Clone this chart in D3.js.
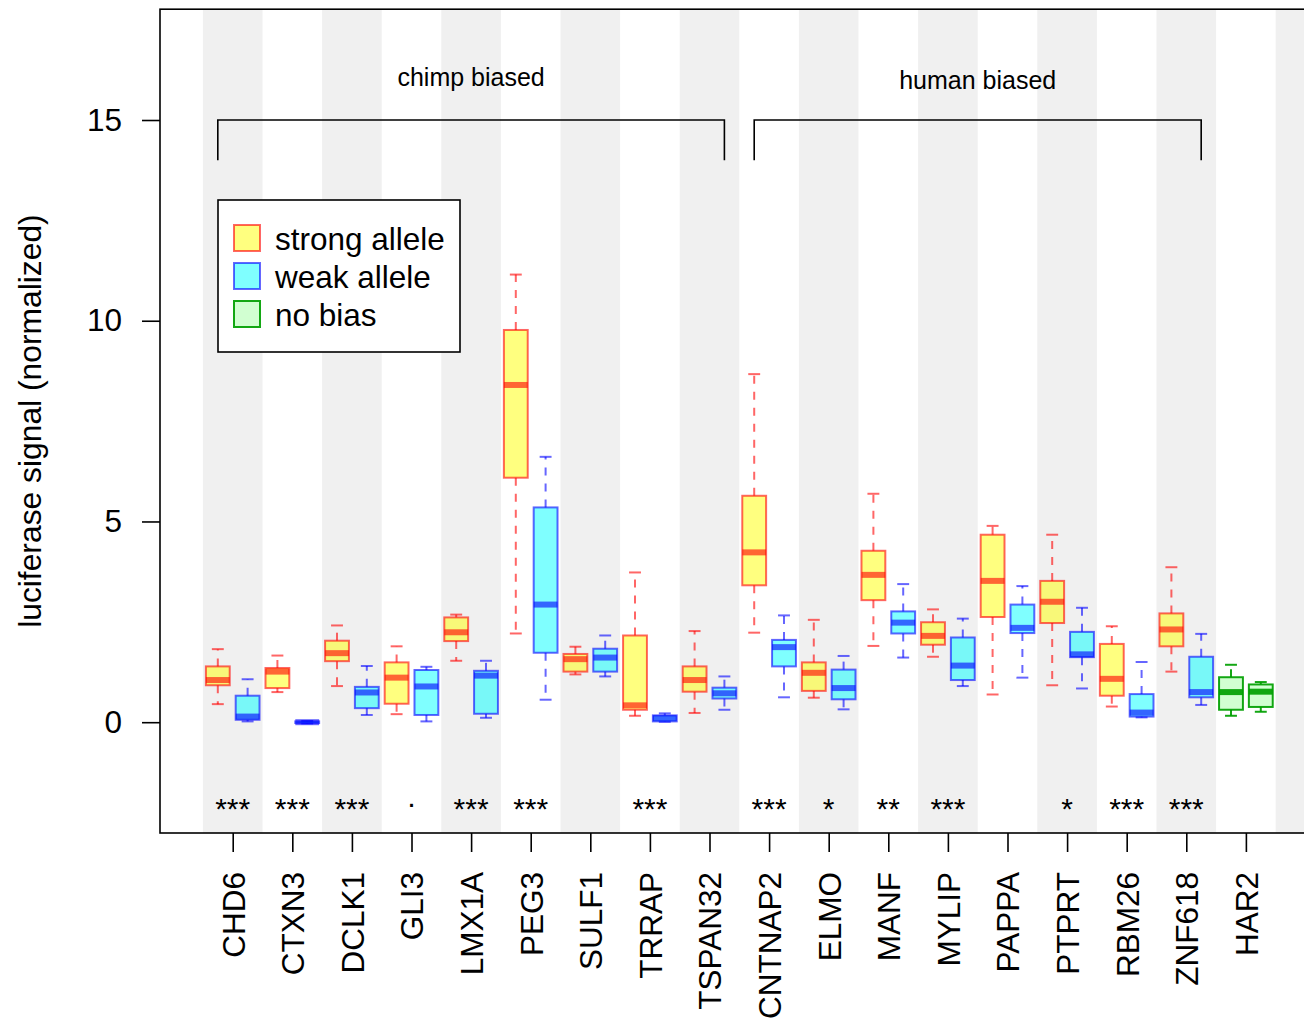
<!DOCTYPE html>
<html>
<head>
<meta charset="utf-8">
<script src="https://cdn.jsdelivr.net/npm/d3@7"></script>
<style>
  html, body { margin: 0; padding: 0; background: #fff; }
  svg { display: block; font-family: "Liberation Sans", Arial, Helvetica, sans-serif; }
</style>
</head>
<body>
<svg id="chart" width="1304" height="1018"></svg>
<script>
// Genes tested; each has a strong-allele and a weak-allele box (HAR2: two unbiased controls)
const genes = ["CHD6","CTXN3","DCLK1","GLI3","LMX1A","PEG3","SULF1","TRRAP","TSPAN32",
               "CNTNAP2","ELMO","MANF","MYLIP","PAPPA","PTPRT","RBM26","ZNF618","HAR2"];

// Five-number summaries [lower whisker, Q1, median, Q3, upper whisker]
const strongAllele = [
  [0.45, 0.92, 1.05, 1.39, 1.82],
  [0.75, 0.85, 1.26, 1.35, 1.66],
  [0.90, 1.52, 1.72, 2.03, 2.41],
  [0.20, 0.46, 1.11, 1.49, 1.89],
  [1.53, 2.02, 2.24, 2.61, 2.68],
  [2.21, 6.09, 8.40, 9.77, 11.15],
  [1.19, 1.26, 1.57, 1.70, 1.88],
  [0.16, 0.31, 0.42, 2.16, 3.73],
  [0.23, 0.76, 1.05, 1.39, 2.27],
  [2.23, 3.41, 4.23, 5.64, 8.67],
  [0.61, 0.78, 1.23, 1.49, 2.55],
  [1.90, 3.04, 3.67, 4.27, 5.69],
  [1.63, 1.93, 2.15, 2.49, 2.81],
  [0.69, 2.62, 3.52, 4.67, 4.89],
  [0.92, 2.47, 3.00, 3.52, 4.67],
  [0.39, 0.66, 1.08, 1.95, 2.39],
  [1.26, 1.89, 2.31, 2.71, 3.86],
  [0.16, 0.31, 0.75, 1.12, 1.43]
];
const weakAllele = [
  [0.02, 0.06, 0.14, 0.66, 1.07],
  [-0.03, -0.02, 0.00, 0.02, 0.03],
  [0.18, 0.35, 0.74, 0.88, 1.40],
  [0.02, 0.18, 0.89, 1.30, 1.38],
  [0.11, 0.21, 1.16, 1.28, 1.53],
  [0.56, 1.73, 2.93, 5.35, 6.61],
  [1.14, 1.26, 1.61, 1.83, 2.16],
  [0.01, 0.02, 0.10, 0.17, 0.22],
  [0.31, 0.59, 0.72, 0.86, 1.14],
  [0.62, 1.39, 1.87, 2.05, 2.66],
  [0.32, 0.57, 0.85, 1.31, 1.65],
  [1.61, 2.21, 2.48, 2.76, 3.44],
  [0.90, 1.05, 1.41, 2.11, 2.58],
  [1.11, 2.22, 2.35, 2.93, 3.39],
  [0.84, 1.62, 1.69, 2.25, 2.85],
  [0.12, 0.14, 0.24, 0.70, 1.50],
  [0.43, 0.62, 0.75, 1.63, 2.20],
  [0.26, 0.38, 0.76, 0.94, 1.00]
];

// Significance of strong vs weak allele difference
const significance = ["***","***","***","·","***","***","","***","",
                      "***","*","**","***","","*","***","***",""];

// Gene groups marked with brackets above the boxes
const groups = [
  { label: "chimp biased", first: 0, last: 8, textY: 15.85 },
  { label: "human biased", first: 9, last: 16, textY: 15.77 }
];

const yTicks = [0, 5, 10, 15];

const legendItems = [
  { label: "strong allele", kind: "strong" },
  { label: "weak allele", kind: "weak" },
  { label: "no bias", kind: "none" }
];

const palette = {
  strong: { fill: "rgba(255,255,0,0.5)", stroke: "rgba(255,0,0,0.6)" },
  weak:   { fill: "rgba(0,255,255,0.5)", stroke: "rgba(0,0,255,0.6)" },
  none:   { fill: "rgba(0,255,0,0.18)",  stroke: "rgba(0,160,0,0.92)" }
};

const fontSize = 31.5;

// ---- layout -------------------------------------------------------------
const svg = d3.select("#chart");
const nBoxes = genes.length * 2;
const xLo = 0.5 - 0.04 * nBoxes, xHi = nBoxes + 0.5 + 0.04 * nBoxes;
const x = d3.scaleLinear().domain([xLo, xHi]).range([160, 1318.6]);
const y = d3.scaleLinear().domain([-2.76, 17.76]).range([833, 9.2]);
const unit = x(1) - x(0);
const boxW = 0.8 * unit, capW = 0.4 * unit;

const plotTop = y(17.76), plotBot = y(-2.76), plotLeft = x(xLo), plotRight = x(xHi);
const pos = (i, k) => 2 * i + 1 + k;           // k = 0 strong, 1 weak
const center = i => 2 * i + 1.5;

// alternating background stripes, one per gene pair
const stripes = d3.range(0, genes.length + 2);
svg.append("g").selectAll("rect").data(stripes.filter(i => i % 2 === 0))
  .join("rect")
  .attr("x", i => x(2 * i + 0.5))
  .attr("width", i => x(2 * i + 2.5) - x(2 * i + 0.5))
  .attr("y", plotTop).attr("height", plotBot - plotTop)
  .attr("fill", "#f0f0f0");

// ---- boxes --------------------------------------------------------------
const boxes = [];
genes.forEach((g, i) => {
  const control = g === "HAR2";
  boxes.push({ p: pos(i, 0), s: strongAllele[i], kind: control ? "none" : "strong" });
  boxes.push({ p: pos(i, 1), s: weakAllele[i], kind: control ? "none" : "weak" });
});

const bg = svg.append("g").selectAll("g").data(boxes).join("g");
// whiskers (dashed, from hinge out to the extreme)
bg.append("line")
  .attr("x1", d => x(d.p)).attr("x2", d => x(d.p))
  .attr("y1", d => y(d.s[3])).attr("y2", d => y(d.s[4]))
  .attr("stroke", d => palette[d.kind].stroke).attr("stroke-width", 2)
  .attr("stroke-dasharray", "8,8");
bg.append("line")
  .attr("x1", d => x(d.p)).attr("x2", d => x(d.p))
  .attr("y1", d => y(d.s[1])).attr("y2", d => y(d.s[0]))
  .attr("stroke", d => palette[d.kind].stroke).attr("stroke-width", 2)
  .attr("stroke-dasharray", "8,8");
// staples
[0, 4].forEach(j => {
  bg.append("line")
    .attr("x1", d => x(d.p) - capW / 2).attr("x2", d => x(d.p) + capW / 2)
    .attr("y1", d => y(d.s[j])).attr("y2", d => y(d.s[j]))
    .attr("stroke", d => palette[d.kind].stroke).attr("stroke-width", 2);
});
// box body
bg.append("rect")
  .attr("x", d => x(d.p) - boxW / 2).attr("width", boxW)
  .attr("y", d => y(d.s[3])).attr("height", d => Math.max(0.5, y(d.s[1]) - y(d.s[3])))
  .attr("fill", d => palette[d.kind].fill)
  .attr("stroke", d => palette[d.kind].stroke).attr("stroke-width", 2);
// median
bg.append("line")
  .attr("x1", d => x(d.p) - boxW / 2).attr("x2", d => x(d.p) + boxW / 2)
  .attr("y1", d => y(d.s[2])).attr("y2", d => y(d.s[2]))
  .attr("stroke", d => palette[d.kind].stroke).attr("stroke-width", 6);

// ---- frame and axes -----------------------------------------------------
svg.append("rect")
  .attr("x", plotLeft).attr("y", plotTop)
  .attr("width", plotRight - plotLeft).attr("height", plotBot - plotTop)
  .attr("fill", "none").attr("stroke", "#000").attr("stroke-width", 1.6);

const yAxis = svg.append("g").attr("transform", `translate(${plotLeft},0)`)
  .call(d3.axisLeft(y).tickValues(yTicks).tickSize(18).tickPadding(20).tickFormat(d3.format("d")));
yAxis.select(".domain").remove();
yAxis.selectAll("line").attr("stroke-width", 1.6);
yAxis.selectAll("text").attr("font-size", fontSize).attr("fill", "#000")
  .attr("font-family", "'Liberation Sans', Arial, sans-serif");

const xAxis = svg.append("g").attr("transform", `translate(0,${plotBot})`)
  .call(d3.axisBottom(x).tickValues(genes.map((g, i) => center(i)))
    .tickSize(19).tickFormat((d, i) => genes[i]));
xAxis.select(".domain").remove();
xAxis.selectAll("line").attr("stroke-width", 1.6);
xAxis.selectAll("text")
  .attr("font-size", fontSize).attr("fill", "#000")
  .attr("font-family", "'Liberation Sans', Arial, sans-serif")
  .attr("text-anchor", "end")
  .attr("transform", "translate(0,39) rotate(-90)")
  .attr("x", 0).attr("y", 0).attr("dy", "0.36em");

// y-axis title
svg.append("text")
  .attr("transform", `translate(41,${(plotTop + plotBot) / 2}) rotate(-90)`)
  .attr("text-anchor", "middle")
  .attr("font-size", fontSize + 0.3)
  .text("luciferase signal (normalized)");

// significance marks
svg.append("g").selectAll("text").data(significance).join("text")
  .attr("x", (d, i) => x(center(i)))
  .attr("y", d => d === "·" ? 813 : 819)
  .attr("text-anchor", "middle")
  .attr("font-size", 30)
  .text(d => d);

// group brackets
const br = svg.append("g").selectAll("g").data(groups).join("g");
br.append("path")
  .attr("d", d => `M${x(pos(d.first, 0))},${y(14)}V${y(15)}H${x(pos(d.last, 1))}V${y(14)}`)
  .attr("fill", "none").attr("stroke", "#000").attr("stroke-width", 1.6);
br.append("text")
  .attr("x", d => (x(pos(d.first, 0)) + x(pos(d.last, 1))) / 2)
  .attr("y", d => y(d.textY))
  .attr("text-anchor", "middle")
  .attr("font-size", 25)
  .text(d => d.label);

// ---- legend -------------------------------------------------------------
const lg = svg.append("g").attr("transform", "translate(218,200)");
lg.append("rect").attr("width", 242).attr("height", 152)
  .attr("fill", "#fff").attr("stroke", "#000").attr("stroke-width", 1.6);
const li = lg.selectAll("g").data(legendItems).join("g")
  .attr("transform", (d, i) => `translate(0,${25 + i * 38})`);
li.append("rect").attr("x", 16).attr("y", 0).attr("width", 26).attr("height", 26)
  .attr("fill", d => palette[d.kind].fill)
  .attr("stroke", d => palette[d.kind].stroke).attr("stroke-width", 2);
li.append("text").attr("x", 57).attr("y", 25).attr("font-size", fontSize).text(d => d.label);
</script>
</body>
</html>
